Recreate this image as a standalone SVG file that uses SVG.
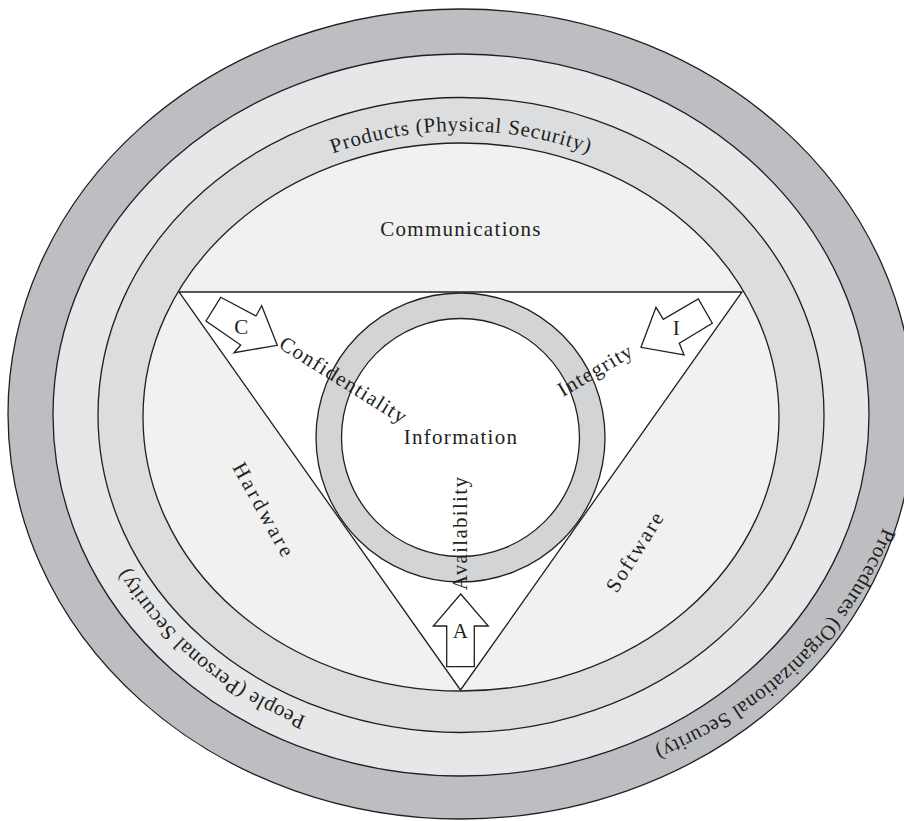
<svg xmlns="http://www.w3.org/2000/svg" width="904" height="821" viewBox="0 0 904 821">
<style>
.ln{stroke:#231f20;stroke-width:1.3;}
.t{font-family:"Liberation Serif","Times New Roman",serif;font-size:21px;fill:#231f20;letter-spacing:1.3px;}
.m{text-anchor:middle;}
</style>
<defs>
<path id="pProducts" d="M 131,415 A 330 284 0 0 1 791,415"/>
<path id="pPeople" d="M 461,746 A 376 331 0 0 1 86,438"/>
<path id="pProcedures" d="M 904,415 A 443 370 0 0 1 537.9,779.4"/>
</defs>
<rect width="904" height="821" fill="#ffffff"/>
<g id="ring-procedures">
<ellipse cx="461" cy="414" rx="453" ry="405" fill="#bdbec1" class="ln"/>
<text class="t m" style="letter-spacing:0.4px"><textPath href="#pProcedures" startOffset="49.5%">Procedures (Organizational Security)</textPath></text>
</g>
<g id="ring-people">
<ellipse cx="461" cy="415" rx="408" ry="361" fill="#e6e7e8" class="ln"/>
<text class="t m" style="letter-spacing:0.5px"><textPath href="#pPeople" startOffset="52%">People (Personal Security)</textPath></text>
</g>
<g id="ring-products">
<ellipse cx="461" cy="415" rx="363" ry="317.5" fill="#dcdddf" class="ln"/>
<text class="t m" style="letter-spacing:0.8px"><textPath href="#pProducts" startOffset="50%">Products (Physical Security)</textPath></text>
</g>
<g id="communications">
<ellipse cx="461" cy="417" rx="318" ry="274" fill="#f1f1f1" class="ln"/>
<text class="t m" x="461" y="236">Communications</text>
</g>
<g id="triangle">
<polygon points="179,292 742,292 460.5,690" fill="#ffffff" class="ln" stroke-linejoin="miter"/>
<text class="t m" style="letter-spacing:3px" transform="translate(258,514) rotate(61)">Hardware</text>
<text class="t m" style="letter-spacing:2px" transform="translate(641,555) rotate(-58)">Software</text>
</g>
<g id="information">
<circle cx="460.5" cy="437.5" r="144.5" fill="#d3d4d6" class="ln"/>
<circle cx="460.5" cy="437.5" r="119" fill="#ffffff" class="ln"/>
<text class="t m" x="461" y="444">Information</text>
</g>
<g id="connectors" fill="#ffffff" class="ln" stroke-linejoin="miter">
<polygon points="220.7,297.3 256,316 261.7,305.7 277.3,345.3 234,352.7 240.7,345 206,321"/>
<polygon points="641,347.3 656,307.3 663.3,319.3 698.3,299 712.3,323.3 679.3,343.3 684,355"/>
<polygon points="460.7,594 488.3,626 474.3,626 474.3,666.7 446.7,666.7 446.7,626 433.3,626"/>
</g>
<g id="labels">
<text class="t m" x="242" y="334">C</text>
<text class="t m" x="677" y="335">I</text>
<text class="t m" x="461" y="638">A</text>
<text class="t m" transform="translate(340,386) rotate(32)">Confidentiality</text>
<text class="t m" transform="translate(599,376) rotate(-30.5)">Integrity</text>
<text class="t m" transform="translate(467,533) rotate(-90)">Availability</text>
</g>
</svg>
